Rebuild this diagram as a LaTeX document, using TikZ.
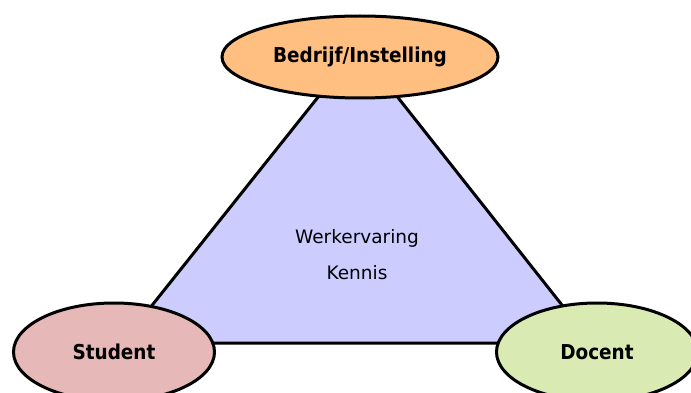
\documentclass[tikz,border=0pt]{standalone}
\usepackage{fontspec}
\setmainfont{DejaVu Sans}
\newfontfamily\condensedfont{DejaVu Sans Condensed}
\usetikzlibrary{shapes.geometric}

\definecolor{orangefill}{RGB}{255,191,128}
\definecolor{pinkfill}{RGB}{230,184,184}
\definecolor{greenfill}{RGB}{217,235,179}
\definecolor{lavender}{RGB}{204,204,255}

\begin{document}
\begin{tikzpicture}[x=1pt,y=-1pt,line width=3pt,
    every node/.style={draw,ellipse,font=\condensedfont\fontsize{20.5}{24}\selectfont\bfseries}]
    \useasboundingbox (0,0) rectangle (691,393);

    % Corners
    \coordinate (apex) at (358,47);
    \coordinate (left) at (122,343);
    \coordinate (right) at (592,343);

    % Triangle
    \draw[fill=lavender,line join=miter] (apex) -- (left) -- (right) -- cycle;

    % Nodes
    \node[fill=orangefill,minimum width=276pt,minimum height=82pt] (bedrijf) at (360,57) {Bedrijf/Instelling};
    \node[fill=pinkfill,minimum width=201pt,minimum height=98pt] (student) at (114,352) {Student};
    \node[fill=greenfill,minimum width=201pt,minimum height=98pt] (docent) at (597,352) {Docent};

    % Labels
    \node[draw=none,font=\fontsize{18.5}{22}\selectfont] (werk) at (357,238) {Werkervaring};
    \node[draw=none,font=\fontsize{18.5}{22}\selectfont] (kennis) at (357,273) {Kennis};

\end{tikzpicture}
\end{document}
